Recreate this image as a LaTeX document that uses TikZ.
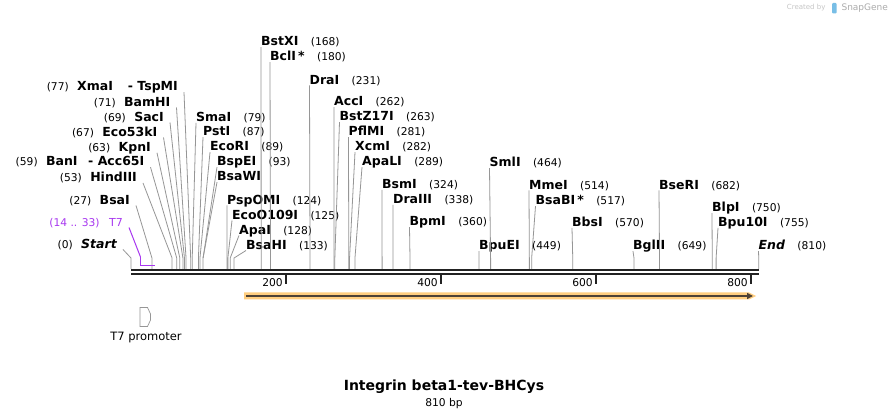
\documentclass[tikz,border=0pt]{standalone}
\usepackage{fontspec}
\setmainfont{DejaVu Sans}
\usetikzlibrary{positioning,arrows.meta}
\definecolor{cutgray}{RGB}{150,150,150}
\definecolor{rulerblack}{RGB}{34,34,34}
\definecolor{t7purple}{RGB}{168,56,240}
\definecolor{cdsorange}{RGB}{255,206,128}
\definecolor{cdsdark}{RGB}{78,66,54}
\definecolor{snapblue}{RGB}{120,190,230}

\begin{document}
\begin{tikzpicture}[x=1pt, y=-1pt,
    enz/.style = {font=\bfseries\fontsize{12.5}{14}\selectfont,
      text height=9.3pt, text depth=1pt, inner ysep=0pt, inner xsep=0pt},
    enzL/.style = {enz, inner xsep=6pt, anchor=south east},
    enzR/.style = {enz, anchor=south west},
    sitenum/.style = {font=\fontsize{10.7}{13}\selectfont, inner sep=0pt},
    cutline/.style = {draw=cutgray, line width=0.8pt},
    rulerline/.style = {draw=rulerblack, line width=2.4pt},
    tickmark/.style = {draw=rulerblack, line width=1.6pt}]

  \fill[white] (0,0) rectangle (889,419);
  \useasboundingbox (0,0) rectangle (889,419);

  % cut sites, just above the ruler
  \foreach \p in {0,27,53,59,63,67,69,71,77,79,87,89,93,124,125,128,133,168,180,
                  231,262,263,281,282,289,324,338,360,449,464,514,517,570,649,682,750,755,810}
    \coordinate (c\p) at ({131+0.775*\p},258);
  \coordinate (rtop) at (131,268.8);

  % ruler
  \coordinate (r0) at (131,270);
  \coordinate (r810) at (759,270);
  \draw[rulerline] (r0) -- (r810);
  \draw[rulerline] ([yshift=-4.3pt]r0) -- ([yshift=-4.3pt]r810);
  \foreach \t in {200,400,600,800} {
    \coordinate (k\t) at ({131+0.775*\t},275.5);
    \draw[tickmark] (k\t) -- ++(0,9);
    \node[sitenum, anchor=east] (lbl\t) at ([xshift=-3pt,yshift=-7.5pt]k\t) {\t};
  }

  % labels left of their line
  \foreach \nm/\txt/\x/\y/\p in {
      Start/{\itshape Start}/123/249.5/0,
      BsaI/BsaI/136/205.5/27,
      HindIII/HindIII/143/183/53,
      BanI/{BanI\hspace{0.85em}- Acc65I}/150.5/167.2/59,
      KpnI/KpnI/157/152.8/63,
      Eco53kI/Eco53kI/163.5/137.5/67,
      SacI/SacI/170/122.5/69,
      BamHI/BamHI/176.5/107.5/71,
      XmaI/{XmaI\hspace{1.2em}- TspMI}/184/92.2/77} {
    \node[enzL] (\nm) at (\x,\y) {\txt};
    \node[sitenum, left=2pt of \nm.base west, anchor=base east] (\nm-n) {(\p)};
    \draw[cutline] (\nm.south east) -- (c\p) -- (c\p |- rtop);
  }

  % labels right of their line
  \foreach \nm/\txt/\x/\y/\p in {
      SmaI/SmaI/196/122.8/79,
      PstI/PstI/203/137.2/87,
      EcoRI/EcoRI/210/152.2/89,
      BspEI/BspEI/217/167.2/93,
      PspOMI/PspOMI/227/205.5/124,
      EcoOI/EcoO109I/232/220.5/125,
      ApaI/ApaI/239/235.5/128,
      BsaHI/BsaHI/246/250.5/133,
      BstXI/BstXI/261/47.2/168,
      BclI/{BclI\,*}/270/62.2/180,
      DraI/DraI/309.5/85.5/231,
      AccI/AccI/334/107.2/262,
      BstZI/BstZ17I/339.5/122.2/263,
      PflMI/PflMI/348.5/137.2/281,
      XcmI/XcmI/355/152.2/282,
      ApaLI/ApaLI/362/167.2/289,
      BsmI/BsmI/382/189.8/324,
      DraIII/DraIII/393/204.8/338,
      BpmI/BpmI/409.5/227.2/360,
      BpuEI/BpuEI/479/251.2/449,
      SmlI/SmlI/489.5/168.2/464,
      MmeI/MmeI/529/190.5/514,
      BsaBI/{BsaBI\,*}/535.5/206.2/517,
      BbsI/BbsI/572/227.8/570,
      BglII/BglII/633/251.2/649,
      BseRI/BseRI/659/190.5/682,
      BlpI/BlpI/712/213.2/750,
      BpuI/Bpu10I/718/227.8/755,
      End/{\itshape End}/758.5/251.2/810} {
    \node[enzR] (\nm) at (\x,\y) {\txt};
    \node[sitenum, right=12pt of \nm.base east, anchor=base west] (\nm-n) {(\p)};
    \draw[cutline] (\nm.south west) -- (c\p) -- (c\p |- rtop);
  }
  \node[enzR] (BsaWI) at (217,182.2) {BsaWI};
  \draw[cutline] (BsaWI.south west) -- (c93);

  % T7 promoter site
  \node[enzL, font=\fontsize{11}{13}\selectfont, text=t7purple] (T7) at (129,227.5) {T7};
  \node[sitenum, text=t7purple, left=3pt of T7.base west, anchor=base east] (T7-n) {(14 .. 33)};
  \coordinate (t7a) at (140.5,257);
  \coordinate (t7b) at (155,265.5);
  \draw[t7purple, line width=1pt] (T7.south east) -- (t7a);
  \draw[t7purple, line width=1.8pt] (t7a) -- (t7a |- t7b) -- (t7b);

  % CDS arrow
  \fill[cdsorange] (244,292.5) -- (749,292.5) -- (756,296) -- (749,299.5) -- (244,299.5) -- cycle;
  \coordinate (cds0) at (246,296);
  \coordinate (cds1) at (753,296);
  \draw[cdsdark, line width=2.2pt, -{Triangle[length=6pt,width=6pt]}] (cds0) -- (cds1);

  % T7 promoter feature
  \draw[cutgray, line width=0.7pt] (140,307.5) -- (147.5,307.5) -- (150.5,314) -- (150.5,320)
    -- (147.5,326.5) -- (140,326.5) -- cycle;
  \node[font=\fontsize{11.5}{13}\selectfont] (t7prom) at (146,338) {T7 promoter};

  % title
  \node[font=\bfseries\fontsize{14}{16}\selectfont] (title) at (444,387) {Integrin beta1-tev-BHCys};
  \node[sitenum] (len) at (444,404) {810 bp};

  % watermark
  \node[font=\fontsize{7}{8}\selectfont, text=gray!45, anchor=east] (made) at (829,8) {Created by};
  \fill[snapblue, rounded corners=1pt] (832,3) rectangle (836.5,13.5);
  \node[font=\fontsize{9}{10}\selectfont, text=gray!65, anchor=west] (snap) at (838,8) {SnapGene};
\end{tikzpicture}
\end{document}
